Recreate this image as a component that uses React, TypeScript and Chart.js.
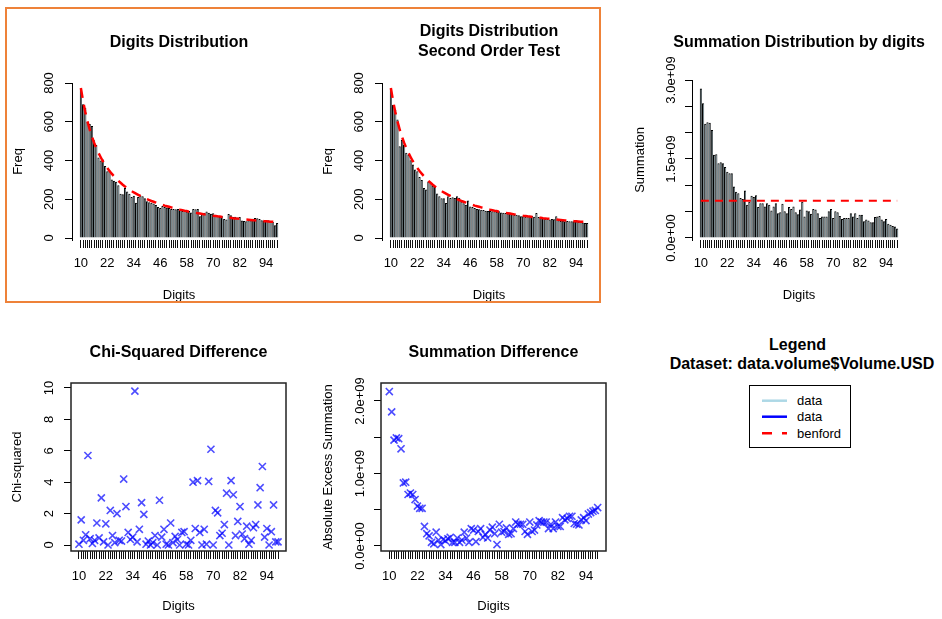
import React, { useEffect, useRef } from 'react';
import { Chart, registerables } from 'chart.js';

Chart.register(...registerables);

const FONT = "'Liberation Sans', Arial, Helvetica, sans-serif";

// ---------- data ----------
const DIGITS = [
  10, 11, 12, 13, 14, 15, 16, 17, 18, 19,
  20, 21, 22, 23, 24, 25, 26, 27, 28, 29,
  30, 31, 32, 33, 34, 35, 36, 37, 38, 39,
  40, 41, 42, 43, 44, 45, 46, 47, 48, 49,
  50, 51, 52, 53, 54, 55, 56, 57, 58, 59,
  60, 61, 62, 63, 64, 65, 66, 67, 68, 69,
  70, 71, 72, 73, 74, 75, 76, 77, 78, 79,
  80, 81, 82, 83, 84, 85, 86, 87, 88, 89,
  90, 91, 92, 93, 94, 95, 96, 97, 98, 99,
];
const X_TICK_LABELS = [10, 22, 34, 46, 58, 70, 82, 94];

const FREQ_TICKS = [0, 200, 400, 600, 800];
const SUM_TICKS = [0, 0.5e9, 1e9, 1.5e9, 2e9, 2.5e9, 3e9];
const SUM_TICK_LABELS = [0, 1.5e9, 3e9];
const CHI_TICKS = [0, 2, 4, 6, 8, 10];
const DIFF_TICKS = [0, 0.5e9, 1e9, 1.5e9, 2e9];
const DIFF_TICK_LABELS = [0, 1e9, 2e9];

const FREQ_FIRST = [
  768, 690, 672, 600, 588, 578, 505, 480, 415, 400,
  405, 372, 345, 350, 302, 295, 290, 272, 228, 226,
  258, 240, 228, 212, 218, 182, 212, 220, 215, 205,
  190, 185, 182, 178, 170, 160, 155, 165, 160, 158,
  155, 150, 150, 148, 150, 145, 140, 142, 137, 140,
  132, 150, 148, 150, 112, 128, 130, 137, 130, 125,
  128, 120, 115, 110, 112, 98, 96, 124, 118, 108,
  110, 106, 108, 90, 88, 86, 92, 91, 100, 103,
  102, 98, 92, 90, 88, 91, 84, 82, 66, 77,
];

const FREQ_SECOND = [
  772, 688, 662, 611, 473, 507, 482, 440, 430, 401,
  380, 353, 345, 315, 300, 258, 250, 292, 285, 270,
  265, 230, 215, 205, 205, 181, 215, 206, 210, 206,
  215, 208, 189, 180, 172, 194, 163, 160, 155, 150,
  148, 146, 145, 141, 140, 139, 138, 138, 136, 138,
  132, 130, 129, 128, 130, 125, 120, 120, 118, 112,
  112, 110, 112, 114, 115, 110, 129, 108, 103, 103,
  100, 98, 95, 98, 97, 112, 91, 88, 90, 86,
  88, 86, 86, 87, 86, 84, 85, 80, 78, 77,
];

const BENFORD_FREQ = [
  774, 707, 650, 602, 560, 524, 492, 464, 439, 417,
  396, 378, 361, 346, 332, 319, 306, 295, 285, 275,
  266, 258, 250, 242, 235, 229, 223, 217, 211, 206,
  201, 196, 191, 187, 183, 178, 175, 171, 167, 164,
  161, 158, 155, 152, 149, 146, 144, 141, 139, 136,
  134, 132, 130, 128, 126, 124, 122, 120, 119, 117,
  115, 114, 112, 111, 109, 108, 106, 105, 104, 102,
  101, 100, 99, 97, 96, 95, 94, 93, 92, 91,
  90, 89, 88, 87, 86, 85, 84, 84, 83, 82,
];

const SUMMATION = [
  2.84e9, 2.56e9, 2.17e9, 2.20e9, 2.19e9, 2.05e9, 1.58e9, 1.59e9, 1.42e9, 1.44e9,
  1.42e9, 1.35e9, 1.26e9, 1.23e9, 1.23e9, 0.98e9, 0.88e9, 0.85e9, 0.76e9, 0.74e9,
  0.90e9, 0.63e9, 0.69e9, 0.80e9, 0.78e9, 0.81e9, 0.59e9, 0.66e9, 0.66e9, 0.60e9,
  0.66e9, 0.63e9, 0.52e9, 0.60e9, 0.66e9, 0.47e9, 0.49e9, 0.65e9, 0.51e9, 0.47e9,
  0.59e9, 0.55e9, 0.60e9, 0.49e9, 0.45e9, 0.54e9, 0.69e9, 0.41e9, 0.52e9, 0.51e9,
  0.46e9, 0.55e9, 0.54e9, 0.47e9, 0.38e9, 0.41e9, 0.41e9, 0.41e9, 0.51e9, 0.55e9,
  0.38e9, 0.51e9, 0.49e9, 0.42e9, 0.36e9, 0.38e9, 0.38e9, 0.38e9, 0.47e9, 0.41e9,
  0.47e9, 0.38e9, 0.44e9, 0.44e9, 0.32e9, 0.35e9, 0.33e9, 0.30e9, 0.30e9, 0.40e9,
  0.41e9, 0.42e9, 0.35e9, 0.32e9, 0.36e9, 0.27e9, 0.25e9, 0.23e9, 0.22e9, 0.18e9,
];
const BENFORD_SUMMATION = 0.707e9;

const CHI_SQUARED = [
  0.05, 1.6, 0.3, 0.65, 5.7, 0.4, 0.1, 0.3, 1.4, 0.45,
  3.0, 0.2, 1.35, 0.0, 2.2, 0.6, 0.15, 2.0, 0.3, 0.25,
  4.2, 2.45, 0.8, 0.35, 0.5, 9.8, 0.2, 1.0, 2.7, 1.95,
  0.05, 0.25, 0.0, 0.15, 0.6, 0.0, 2.85, 0.5, 1.0, 0.05,
  0.0, 1.4, 0.15, 0.55, 0.35, 0.0, 0.8, 0.85, 0.05, 0.0,
  0.3, 4.0, 1.05, 4.1, 0.8, 0.0, 1.0, 0.05, 4.05, 6.1,
  0.0, 2.2, 2.05, 0.6, 0.75, 1.3, 3.3, 0.0, 4.1, 3.2,
  0.6, 1.5, 2.45, 0.7, 0.4, 1.2, 0.05, 0.3, 1.1, 1.3,
  2.55, 3.65, 5.0, 0.5, 1.05, 0.0, 0.85, 2.55, 0.2, 0.2,
];

const SUMMATION_DIFF = [
  2.13e9, 1.85e9, 1.46e9, 1.49e9, 1.48e9, 1.34e9, 0.87e9, 0.88e9, 0.71e9, 0.73e9,
  0.71e9, 0.64e9, 0.55e9, 0.52e9, 0.52e9, 0.27e9, 0.17e9, 0.14e9, 0.05e9, 0.03e9,
  0.19e9, 0.08e9, 0.02e9, 0.09e9, 0.07e9, 0.10e9, 0.12e9, 0.05e9, 0.05e9, 0.11e9,
  0.05e9, 0.08e9, 0.19e9, 0.11e9, 0.05e9, 0.24e9, 0.22e9, 0.06e9, 0.20e9, 0.24e9,
  0.12e9, 0.16e9, 0.11e9, 0.22e9, 0.26e9, 0.17e9, 0.02e9, 0.30e9, 0.19e9, 0.20e9,
  0.25e9, 0.16e9, 0.17e9, 0.24e9, 0.33e9, 0.30e9, 0.30e9, 0.30e9, 0.20e9, 0.16e9,
  0.33e9, 0.20e9, 0.22e9, 0.29e9, 0.35e9, 0.33e9, 0.33e9, 0.33e9, 0.24e9, 0.30e9,
  0.24e9, 0.33e9, 0.27e9, 0.27e9, 0.39e9, 0.36e9, 0.38e9, 0.41e9, 0.41e9, 0.31e9,
  0.30e9, 0.29e9, 0.36e9, 0.39e9, 0.35e9, 0.44e9, 0.46e9, 0.48e9, 0.49e9, 0.53e9,
];

// ---------- helpers ----------
function sci(v: number): string {
  if (v === 0) return '0.0e+00';
  const [m, e] = v.toExponential(1).split('e');
  const n = parseInt(e, 10);
  return `${m}e${n < 0 ? '-' : '+'}${String(Math.abs(n)).padStart(2, '0')}`;
}

function measureWidest(labels: string[]): number {
  const ctx = document.createElement('canvas').getContext('2d')!;
  ctx.font = `13px ${FONT}`;
  return Math.max(...labels.map((l) => ctx.measureText(l).width));
}

type YOpts = {
  min: number; max: number; ticks: number[]; fmt: (v: number) => string;
  title: string; width: number; labelCenter: number; titleCenter: number; border: boolean;
};

function yAxis(o: YOpts) {
  const widest = measureWidest(o.ticks.map(o.fmt));
  return {
    type: 'linear',
    position: 'left',
    min: o.min,
    max: o.max,
    afterFit: (s: any) => { s.width = o.width; },
    afterBuildTicks: (s: any) => { s.ticks = o.ticks.map((v) => ({ value: v })); },
    border: { display: o.border, color: '#000', width: 1 },
    grid: { drawOnChartArea: false, drawTicks: true, tickLength: 7, color: '#000', lineWidth: 1 },
    ticks: {
      autoSkip: false, minRotation: 90, maxRotation: 90, crossAlign: 'center',
      padding: o.width - 7 - o.labelCenter - widest / 2,
      color: '#000', font: { family: FONT, size: 13 },
      callback: (v: number) => o.fmt(v),
    },
    title: {
      display: true, text: o.title, color: '#000',
      font: { family: FONT, size: 13, lineHeight: 1.2 },
      padding: { top: o.titleCenter - 7.8, bottom: 0 },
    },
  };
}

type XOpts = { min: number; max: number; height: number; labelPad: number; titlePad: number };

function xAxis(o: XOpts) {
  return {
    type: 'linear',
    position: 'bottom',
    min: o.min,
    max: o.max,
    offset: false,
    afterFit: (s: any) => { s.height = o.height; },
    afterBuildTicks: (s: any) => { s.ticks = DIGITS.map((v) => ({ value: v })); },
    border: { display: false },
    grid: { offset: false, drawOnChartArea: false, drawTicks: true, tickLength: 8, color: '#111', lineWidth: 1 },
    ticks: {
      autoSkip: false, minRotation: 0, maxRotation: 0, padding: o.labelPad,
      color: '#000', font: { family: FONT, size: 13 },
      callback: (v: number) => (X_TICK_LABELS.includes(v) ? String(v) : ''),
    },
    title: {
      display: true, text: 'Digits', color: '#000',
      font: { family: FONT, size: 13, lineHeight: 1.2 },
      padding: { top: 0, bottom: o.titlePad },
    },
  };
}

// Title drawn centred over the plot region (like R's main title), never squeezed.
function titlePlugin(lines: string[], firstY: number) {
  return {
    id: 'rTitle',
    afterDraw(chart: any) {
      const { ctx, chartArea } = chart;
      ctx.save();
      ctx.font = `bold 16px ${FONT}`;
      ctx.fillStyle = '#000';
      ctx.textAlign = 'center';
      ctx.textBaseline = 'middle';
      const cx = (chartArea.left + chartArea.right) / 2;
      lines.forEach((l, i) => ctx.fillText(l, cx, firstY + i * 20));
      ctx.restore();
    },
  };
}

const boxPlugin = {
  id: 'rBox',
  afterDatasetsDraw(chart: any) {
    const { ctx, chartArea: a } = chart;
    ctx.save();
    ctx.strokeStyle = '#222';
    ctx.lineWidth = 1.5;
    ctx.strokeRect(a.left, a.top, a.right - a.left, a.bottom - a.top);
    ctx.restore();
  },
};

function baseOptions(plotTop: number, padRight: number, x: any, y: any) {
  return {
    responsive: false,
    animation: false,
    devicePixelRatio: 1,
    events: [],
    layout: { padding: { left: 0, top: plotTop, right: padRight, bottom: 0 } },
    plugins: {
      legend: { display: false },
      tooltip: { enabled: false },
      title: { display: false },
    },
    scales: { x, y },
  };
}

const BAR_X = { min: 5.983, max: 103.017, height: 70, labelPad: 7.2, titlePad: 7.2 };
const SCAT_X = { min: 6.44, max: 102.56, height: 67, labelPad: 9.9, titlePad: 3.5 };

function freqBars(values: number[]) {
  return {
    type: 'bar', order: 1,
    data: DIGITS.map((d, i) => ({ x: d, y: values[i] })),
    backgroundColor: '#ADD8E6', borderColor: '#000',
    borderWidth: { top: 1, left: 1.1, right: 0.75, bottom: 0 },
    borderSkipped: 'start', barPercentage: 1, categoryPercentage: 1,
    inflateAmount: 0,
  };
}

function redLine(points: { x: number; y: number }[], width: number, dash: number[]) {
  return {
    type: 'line', order: 0, data: points,
    borderColor: '#FF0000', borderWidth: width, borderDash: dash,
    pointRadius: 0, fill: false, tension: 0,
  };
}

function buildFreq(lines: string[], values: number[]) {
  return () => ({
    type: 'bar',
    data: {
      datasets: [
        redLine(DIGITS.map((d, i) => ({ x: d, y: BENFORD_FREQ[i] })), 2.5, [10, 7]),
        freqBars(values),
      ],
    },
    options: baseOptions(83, 24, xAxis(BAR_X), yAxis({
      min: -10.3, max: 800, ticks: FREQ_TICKS, fmt: (v) => (FREQ_TICKS.includes(v) ? String(v) : ''),
      title: 'Freq', width: 72, labelCenter: 49.5, titleCenter: 18, border: true,
    })),
    plugins: [titlePlugin(lines, lines.length > 1 ? 32 : 43)],
  });
}

function buildSummation() {
  return {
    type: 'bar',
    data: {
      datasets: [
        redLine([{ x: 10, y: BENFORD_SUMMATION }, { x: 99, y: BENFORD_SUMMATION }], 2, [8, 6]),
        freqBars(SUMMATION),
      ],
    },
    options: baseOptions(80, 36, xAxis(BAR_X), yAxis({
      min: -0.038e9, max: 3e9, ticks: SUM_TICKS, fmt: (v) => (SUM_TICK_LABELS.includes(v) ? sci(v) : ''),
      title: 'Summation', width: 72, labelCenter: 51.2, titleCenter: 20, border: true,
    })),
    plugins: [titlePlugin(['Summation Distribution by digits'], 43)],
  };
}

function buildScatter(title: string, values: number[], y: YOpts) {
  return () => ({
    type: 'scatter',
    data: {
      datasets: [{
        data: DIGITS.map((d, i) => ({ x: d, y: values[i] })),
        pointStyle: 'crossRot', pointRadius: 5, pointBorderWidth: 1.6,
        pointBorderColor: 'rgba(0,0,255,0.7)', pointBackgroundColor: 'rgba(0,0,0,0)',
      }],
    },
    options: baseOptions(73, 24, xAxis(SCAT_X), yAxis(y)),
    plugins: [boxPlugin, titlePlugin([title], 43)],
  });
}

function ChartCanvas(props: { left: number; top: number; width: number; height: number; build: () => any }) {
  const ref = useRef<HTMLCanvasElement>(null);
  useEffect(() => {
    const chart = new Chart(ref.current as HTMLCanvasElement, props.build());
    return () => chart.destroy();
  }, []);
  const { left, top, width, height } = props;
  return (
    <canvas
      ref={ref}
      width={width}
      height={height}
      style={{ position: 'absolute', left, top, width, height, display: 'block' }}
    />
  );
}

function LegendPanel() {
  return (
    <>
      <div style={{ position: 'absolute', left: 657.5, top: 335, width: 280, textAlign: 'center', font: `bold 16px/20px ${FONT}`, color: '#000' }}>
        Legend
      </div>
      <div style={{ position: 'absolute', left: 662, top: 353.5, width: 280, textAlign: 'center', font: `bold 16px/20px ${FONT}`, color: '#000', whiteSpace: 'nowrap' }}>
        Dataset: data.volume$Volume.USD
      </div>
      <svg width={102} height={63} style={{ position: 'absolute', left: 749, top: 385 }}>
        <rect x={0.5} y={0.5} width={101} height={62} fill="#fff" stroke="#000" strokeWidth={1} />
        <line x1={13} x2={38} y1={15.7} y2={15.7} stroke="#ADD8E6" strokeWidth={2.5} />
        <line x1={13} x2={38} y1={31.7} y2={31.7} stroke="#0000FF" strokeWidth={2.5} />
        <line x1={13} x2={38} y1={48.3} y2={48.3} stroke="#FF0000" strokeWidth={2.5} strokeDasharray="10 10" />
        <text x={48} y={15.7} fontFamily={FONT} fontSize={13} dominantBaseline="central" fill="#000">data</text>
        <text x={48} y={31.7} fontFamily={FONT} fontSize={13} dominantBaseline="central" fill="#000">data</text>
        <text x={48} y={48.3} fontFamily={FONT} fontSize={13} dominantBaseline="central" fill="#000">benford</text>
      </svg>
    </>
  );
}

export default function App() {
  return (
    <div style={{ position: 'absolute', left: 0, top: 0, width: 942, height: 618, background: '#fff', overflow: 'hidden' }}>
      <ChartCanvas left={0} top={0} width={310} height={310} build={buildFreq(['Digits Distribution'], FREQ_FIRST)} />
      <ChartCanvas left={310} top={0} width={310} height={310} build={buildFreq(['Digits Distribution', 'Second Order Test'], FREQ_SECOND)} />
      <ChartCanvas left={620} top={0} width={322} height={310} build={buildSummation} />
      <ChartCanvas left={0} top={310} width={310} height={308} build={buildScatter('Chi-Squared Difference', CHI_SQUARED, {
        min: -0.382, max: 10.318, ticks: CHI_TICKS, fmt: (v) => String(v),
        title: 'Chi-squared', width: 71, labelCenter: 49.5, titleCenter: 17, border: false,
      })} />
      <ChartCanvas left={310} top={310} width={320} height={308} build={buildScatter('Summation Difference', SUMMATION_DIFF, {
        min: -0.069e9, max: 2.248e9, ticks: DIFF_TICKS, fmt: (v) => (DIFF_TICK_LABELS.includes(v) ? sci(v) : ''),
        title: 'Absolute Excess Summation', width: 71, labelCenter: 50.8, titleCenter: 18.3, border: false,
      })} />
      <LegendPanel />
      <div style={{ position: 'absolute', left: 5, top: 7, width: 596, height: 296, border: '2px solid #EE8239', boxSizing: 'border-box', pointerEvents: 'none' }} />
    </div>
  );
}
